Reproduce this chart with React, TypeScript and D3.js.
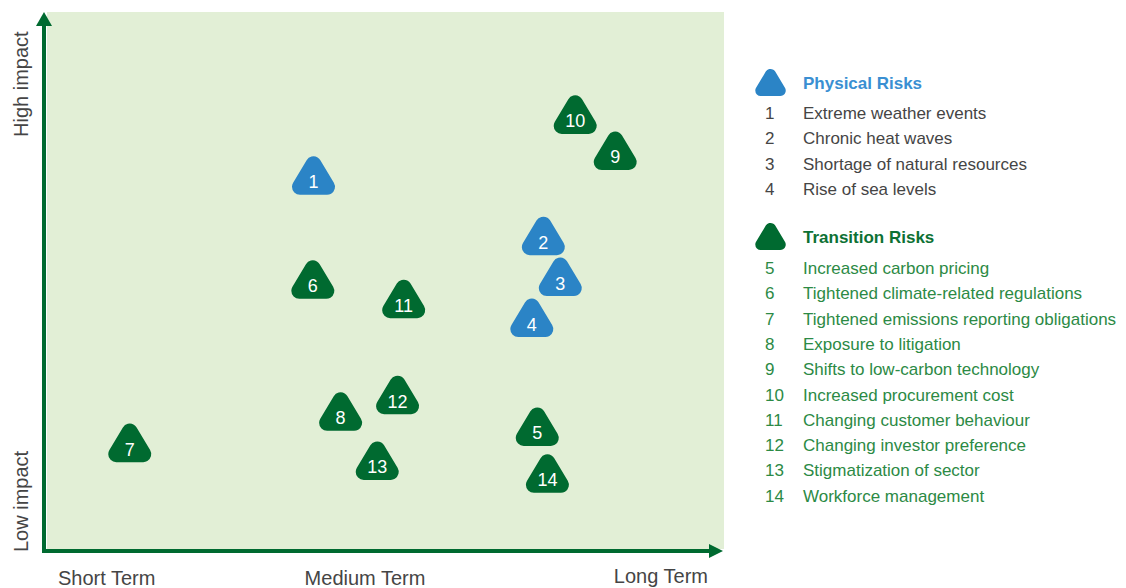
import React from "react";
import * as d3 from "d3";

const ids = [1, 2, 3, 4, 5, 6, 7, 8, 9, 10, 11, 12, 13, 14];
const groups = ["physical", "physical", "physical", "physical", "transition", "transition", "transition", "transition", "transition", "transition", "transition", "transition", "transition", "transition"];
const termValues = [3.96, 7.35, 7.6, 7.18, 7.26, 3.95, 1.25, 4.36, 8.41, 7.82, 5.29, 5.2, 4.9, 7.41];
const impactValues = [6.85, 5.73, 4.97, 4.21, 2.19, 4.92, 1.89, 2.47, 7.31, 7.98, 4.56, 2.78, 1.56, 1.32];

const physicalNames = ["Extreme weather events", "Chronic heat waves", "Shortage of natural resources", "Rise of sea levels"];
const transitionNames = [
  "Increased carbon pricing",
  "Tightened climate-related regulations",
  "Tightened emissions reporting obligations",
  "Exposure to litigation",
  "Shifts to low-carbon technology",
  "Increased procurement cost",
  "Changing customer behaviour",
  "Changing investor preference",
  "Stigmatization of sector",
  "Workforce management",
];
const groupTitles = ["Physical Risks", "Transition Risks"];
const xAxisLabels = ["Short Term", "Medium Term", "Long Term"];
const yAxisLabels = ["Low impact", "High impact"];

const BLUE = "#2b84c6";
const GREEN = "#006a30";
const BG = "#e2efd6";
const GRAY = "#454545";
const FONT = "'Liberation Sans', Arial, sans-serif";

function triPath(cx: number, cy: number, s: number) {
  // inner triangle, rounded by a round-joined stroke
  const top = cy - 17.5 * s;
  const base = cy + 5 * s;
  const hw = 13.5 * s;
  return `M${cx},${top}L${cx + hw},${base}L${cx - hw},${base}Z`;
}

export default function App() {
  const W = 1126;
  const H = 588;
  const x = d3.scaleLinear().domain([0, 10]).range([45, 723]);
  const y = d3.scaleLinear().domain([0, 10]).range([551, 12]);

  const legendX = 765;
  const legendTextX = 803;
  const rowH = 25.3;

  return (
    <svg width={W} height={H} style={{ position: "absolute", left: 0, top: 0 }} fontFamily={FONT}>
      <rect x={x(0) + 2} y={y(10)} width={x(10) - x(0) - 1} height={y(0) - y(10) - 2} fill={BG} />
      {/* axes */}
      <path d={`M${x(0) - 1},${y(10) + 10}L${x(0) - 1},${y(0)}L${x(10) - 10},${y(0)}`} fill="none" stroke={GREEN} strokeWidth={4} strokeLinejoin="miter" strokeLinecap="square" />
      <path d={`M${x(0) - 1},${y(10)}L${x(0) - 9},${y(10) + 14}L${x(0) + 7},${y(10) + 14}Z`} fill={GREEN} />
      <path d={`M${x(10)},${y(0)}L${x(10) - 14},${y(0) - 7}L${x(10) - 14},${y(0) + 7}Z`} fill={GREEN} />
      {/* axis labels */}
      <text x={58} y={585} fontSize={20} fill={GRAY}>{xAxisLabels[0]}</text>
      <text x={365} y={585} fontSize={20} fill={GRAY} textAnchor="middle">{xAxisLabels[1]}</text>
      <text x={708} y={583} fontSize={20} fill={GRAY} textAnchor="end">{xAxisLabels[2]}</text>
      <text transform={`translate(28,552) rotate(-90)`} fontSize={20} fill={GRAY}>{yAxisLabels[0]}</text>
      <text transform={`translate(28,137) rotate(-90)`} fontSize={20} fill={GRAY}>{yAxisLabels[1]}</text>
      {/* markers */}
      {ids.map((id, i) => {
        const cx = x(termValues[i]);
        const cy = y(impactValues[i]);
        const c = groups[i] === "physical" ? BLUE : GREEN;
        return (
          <g key={id}>
            <path d={triPath(cx, cy, 1)} fill={c} stroke={c} strokeWidth={16} strokeLinejoin="round" />
            <text x={cx} y={cy + 6.5} fontSize={18} fill="#fff" textAnchor="middle">{id}</text>
          </g>
        );
      })}
      {/* legend */}
      <path d={triPath(770.5, 87, 0.72)} fill={BLUE} stroke={BLUE} strokeWidth={11} strokeLinejoin="round" />
      <text x={legendTextX} y={89} fontSize={17} fontWeight="bold" fill="#3a8fd2">{groupTitles[0]}</text>
      {physicalNames.map((n, i) => (
        <g key={n}>
          <text x={legendX} y={119 + i * rowH} fontSize={17} fill={GRAY}>{ids[i]}</text>
          <text x={legendTextX} y={119 + i * rowH} fontSize={17} fill={GRAY}>{n}</text>
        </g>
      ))}
      <path d={triPath(770.5, 241, 0.72)} fill={GREEN} stroke={GREEN} strokeWidth={11} strokeLinejoin="round" />
      <text x={legendTextX} y={243} fontSize={17} fontWeight="bold" fill="#0d7134">{groupTitles[1]}</text>
      {transitionNames.map((n, i) => (
        <g key={n}>
          <text x={legendX} y={274 + i * rowH} fontSize={17} fill="#2c8a45">{ids[i + 4]}</text>
          <text x={legendTextX} y={274 + i * rowH} fontSize={17} fill="#2c8a45">{n}</text>
        </g>
      ))}
    </svg>
  );
}
